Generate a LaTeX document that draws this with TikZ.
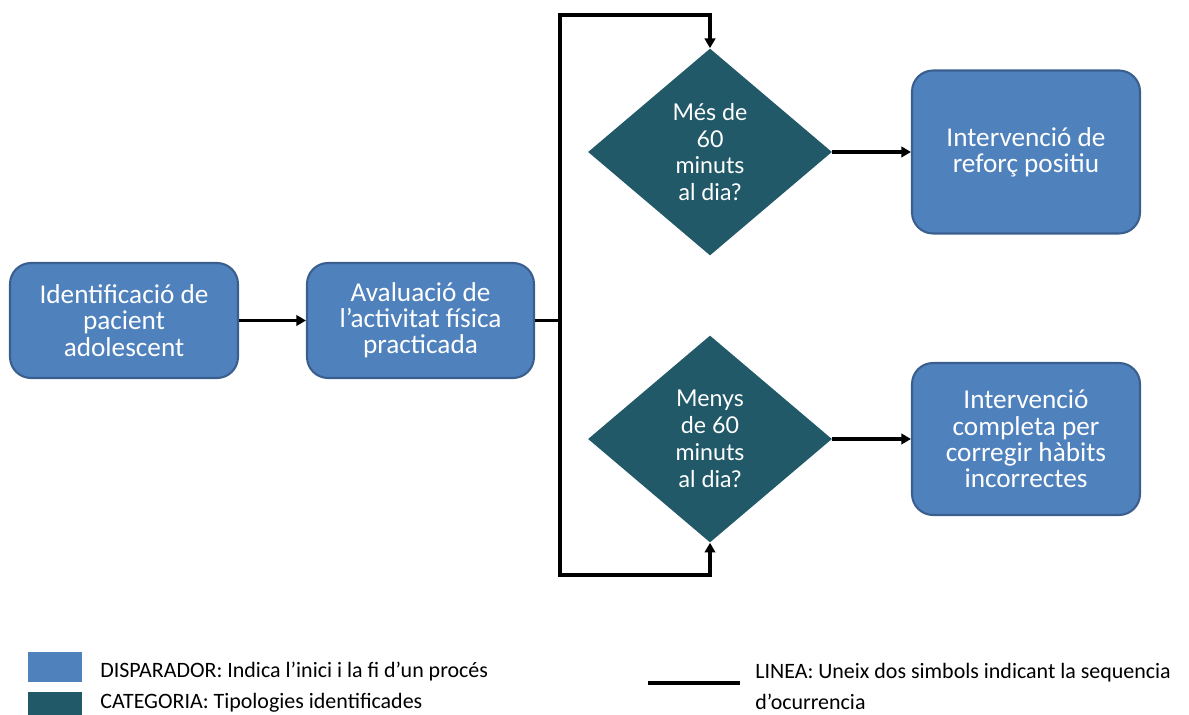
\documentclass[tikz,border=0pt]{standalone}
\usepackage{fontspec}
\setmainfont{Carlito}
\newfontfamily\diafont{Lato}
\usetikzlibrary{shapes.geometric,arrows.meta}
\definecolor{boxblue}{HTML}{4F81BD}
\definecolor{boxedge}{HTML}{3A5F8E}
\definecolor{teal}{HTML}{215968}
\begin{document}
\begin{tikzpicture}[x=0.02cm,y=-0.02cm,
  procbox/.style={draw=boxedge,line width=1.2pt,fill=boxblue,rounded corners=0.42cm,
    text=white,align=center,inner sep=0pt,minimum width=4.56cm,
    font=\fontsize{15.5pt}{14.9pt}\selectfont},
  decis/.style={diamond,fill=teal,text=white,align=center,inner sep=0pt,
    minimum width=4.88cm,minimum height=4.14cm,shape aspect=1.18,
    font=\diafont\fontsize{13.2pt}{15.3pt}\selectfont},
  conn/.style={line width=1.8pt,black},
  arr/.style={conn,-{Triangle[length=5.5pt,width=6pt]}},
  legtext/.style={anchor=west,inner sep=0pt,font=\fontsize{12.5pt}{13pt}\selectfont}]
\useasboundingbox (0,0) rectangle (1189,715);
% nodes
\node[procbox,minimum height=2.3cm] (b1) at (124,320.5) {Identificació de\\pacient\\adolescent};
\node[procbox,minimum height=2.3cm,minimum width=4.54cm] (b2) at (420.5,320.5) {Avaluació de\\l’activitat física\\practicada};
\node[decis] (d1) at (710,152) {Més de\\60\\minuts\\al dia?};
\node[decis] (d2) at (710,439) {Menys\\de 60\\minuts\\al dia?};
\node[procbox,minimum height=3.26cm] (b3) at (1026,152) {Intervenció de\\reforç positiu};
\node[procbox,minimum height=3.04cm] (b4) at (1026,439) {Intervenció\\completa per\\corregir hàbits\\incorrectes};
% junction coordinates
\coordinate (jm) at (560,320.5);
\coordinate (jt) at (560,15);
\coordinate (jb) at (560,575);
% connectors
\draw[arr] (b1.east) -- (b2.west);
\draw[conn] (b2.east) -- (jm);
\draw[arr] (jm) -- (jt) -| (d1.north);
\draw[arr] (jm) -- (jb) -| (d2.south);
\draw[arr] (d1.east) -- (b3.west);
\draw[arr] (d2.east) -- (b4.west);
% legend
\fill[boxblue] (28,652) rectangle (82,682);
\fill[teal] (28,692) rectangle (82,715);
\node[legtext] (l1) at (100,672) {DISPARADOR: Indica l’inici i la fi d’un procés};
\node[legtext] (l2) at (100,703) {CATEGORIA: Tipologies identificades};
\coordinate (la) at (648,683);
\coordinate (lb) at (740,683);
\draw[line width=2.8pt] (la) -- (lb);
\node[legtext] (l3) at (755,673) {LINEA: Uneix dos simbols indicant la sequencia};
\node[legtext] (l4) at (755,702) {d’ocurrencia};
\end{tikzpicture}
\end{document}
